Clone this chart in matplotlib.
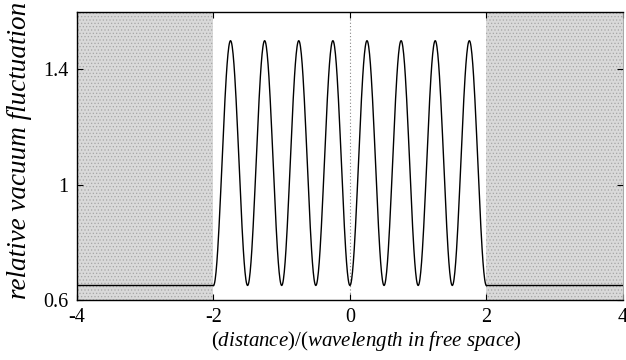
import numpy as np
import matplotlib
matplotlib.use('Agg')
import matplotlib.pyplot as plt

plt.rcParams['font.family'] = 'Liberation Serif'
plt.rcParams['mathtext.fontset'] = 'custom'
plt.rcParams['mathtext.rm'] = 'Liberation Serif'
plt.rcParams['mathtext.it'] = 'Liberation Serif:italic'
plt.rcParams['axes.unicode_minus'] = False
plt.rcParams['hatch.linewidth'] = 0.5

# values
# peaks and troughs of the standing wave inside the slab
ext_x = [-2.0, -1.75, -1.5, -1.25, -1.0, -0.75, -0.5, -0.25, 0.0,
         0.25, 0.5, 0.75, 1.0, 1.25, 1.5, 1.75, 2.0]
ext_y = [0.65, 1.50, 0.65, 1.50, 0.65, 1.50, 0.65, 1.50, 0.65,
         1.50, 0.65, 1.50, 0.65, 1.50, 0.65, 1.50, 0.65]
# flat level outside the slab
out_x_left = [-4.0, -2.0]
out_x_right = [2.0, 4.0]
out_level = 0.65
# shaded regions (outside the slab)
shade_left = (-4.0, -2.0)
shade_right = (2.0, 4.0)

xticks = [-4, -2, 0, 2, 4]
xticklabels = ['-4', '-2', '0', '2', '4']
yticks = [0.6, 1.0, 1.4]
yticklabels = ['0.6', '1', '1.4']

# smooth the curve between consecutive extrema (cosine-shaped segments)
cx, cy = [], []
for i in range(len(ext_x) - 1):
    t = np.linspace(0, 1, 40, endpoint=False)
    s = (1 - np.cos(np.pi * t)) / 2
    cx.extend(ext_x[i] + (ext_x[i+1] - ext_x[i]) * t)
    cy.extend(ext_y[i] + (ext_y[i+1] - ext_y[i]) * s)
cx.append(ext_x[-1])
cy.append(ext_y[-1])

fig = plt.figure(figsize=(6.26, 3.6), dpi=100)
ax = fig.add_axes([0.123, 0.167, 0.872, 0.8])

for a, b in (shade_left, shade_right):
    ax.axvspan(a, b, facecolor='#d9d9d9', edgecolor='#a6a6a6', hatch='.....',
               lw=0, zorder=0)

ax.axvline(0, color='#888888', lw=0.8, ls=(0, (1, 2)), zorder=1)

ax.plot(out_x_left, [out_level, out_level], color='black', lw=1.0, zorder=3)
ax.plot(out_x_right, [out_level, out_level], color='black', lw=1.0, zorder=3)
ax.plot(cx, cy, color='black', lw=1.0, zorder=3)

ax.set_xlim(-4, 4)
ax.set_ylim(0.6, 1.6)
ax.set_xticks(xticks)
ax.set_xticklabels(xticklabels)
ax.set_yticks(yticks)
ax.set_yticklabels(yticklabels)
ax.tick_params(direction='in', length=4, width=0.8, top=True, right=True,
               labelsize=14.5, pad=6)

for side in ('left', 'bottom', 'top'):
    ax.spines[side].set_linewidth(1.0)
ax.spines['right'].set_color('#999999')
ax.spines['right'].set_linewidth(0.6)

ax.set_ylabel('relative vacuum fluctuation', fontsize=19.5, style='italic')
ax.yaxis.set_label_coords(-0.082, 0.52)
ax.set_xlabel(r'$(distance)/(wavelength\ in\ free\ space)$', fontsize=15)
ax.xaxis.set_label_coords(0.53, -0.1)

fig.savefig('out.png', dpi=100)
